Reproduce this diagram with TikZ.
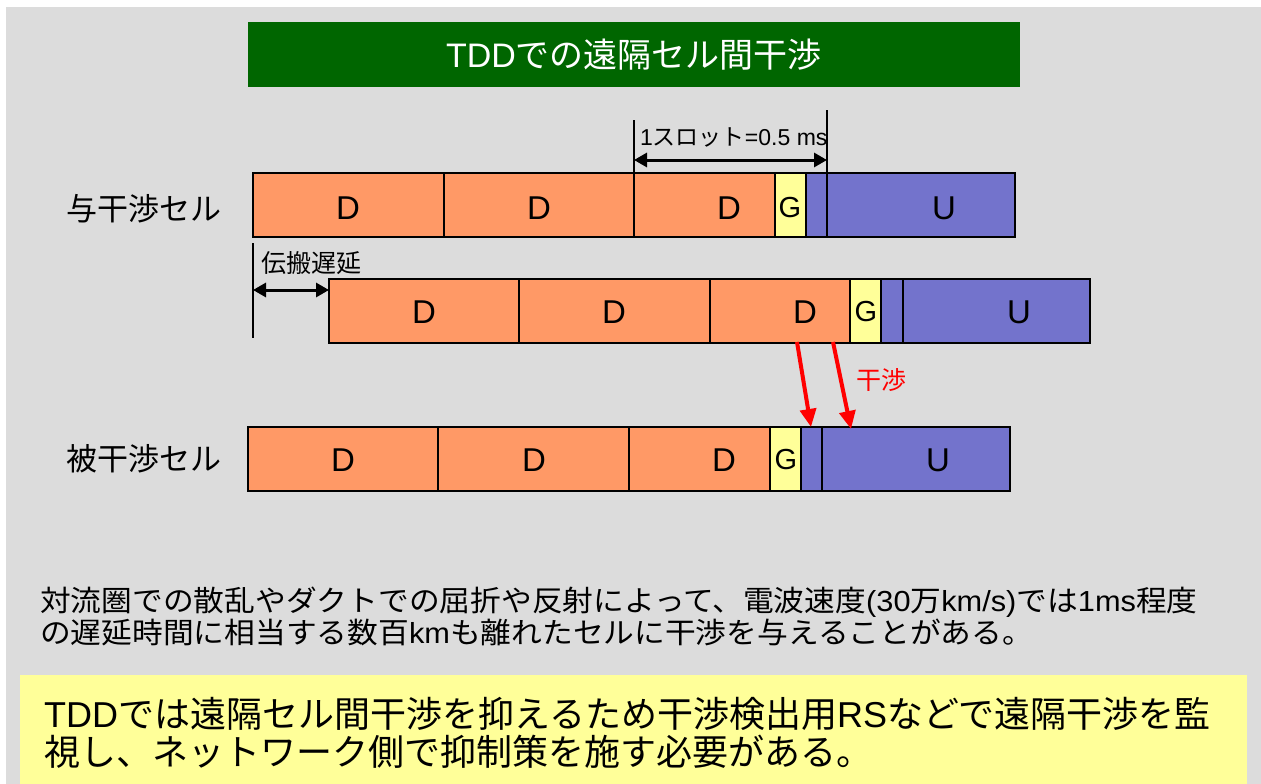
\documentclass[tikz,border=0pt]{standalone}
\usepackage{fontspec}
\setmainfont{Liberation Sans}
\newfontfamily\jp{Noto Sans CJK JP}
\usetikzlibrary{arrows.meta}
\definecolor{bgray}{HTML}{DCDCDC}
\definecolor{dcol}{HTML}{FF9966}
\definecolor{gcol}{HTML}{FFFF99}
\definecolor{ucol}{HTML}{7373CC}
\definecolor{titlegreen}{HTML}{006600}
\definecolor{notebox}{HTML}{FFFF99}
\begin{document}
\begin{tikzpicture}[x=1pt,y=-1pt,
  seg/.style={draw=black,line width=1.5pt,inner sep=0pt,outer sep=0pt,anchor=north west,minimum height=64pt},
  lbl/.style={inner sep=0pt,font=\fontsize{33}{36}\selectfont},
  glbl/.style={inner sep=0pt,font=\fontsize{29}{32}\selectfont},
  dimarrow/.style={line width=3pt,{Triangle[length=13pt,width=14pt]}-{Triangle[length=13pt,width=14pt]}},
  redarrow/.style={draw=red,line width=4pt,-{Triangle[length=18pt,width=16pt]}},
  marker/.style={line width=1.5pt}]
\useasboundingbox (0,0) rectangle (1261,784);
\fill[white] (0,0) rectangle (1261,784);
\fill[bgray] (6,7) rectangle (1261,784);
% title
\node[fill=titlegreen,minimum width=772pt,minimum height=65pt,anchor=north west,inner sep=0pt] (title) at (248,22) {};
\node[text=white,inner sep=0pt,font=\fontsize{34}{38}\selectfont,anchor=base] (titletext) at (634,68) {TDD{\jp での遠隔セル間干渉}};
% row labels
\node[anchor=base west,inner sep=0pt,font=\jp\fontsize{31}{34}\selectfont] (lab1) at (66,220) {与干渉セル};
\node[anchor=base west,inner sep=0pt,font=\jp\fontsize{31}{34}\selectfont] (lab3) at (66,470) {被干渉セル};
% row 1
\node[seg,fill=dcol,minimum width=191pt] (a1) at (253,173) {};
\node[seg,fill=dcol,minimum width=190pt] (a2) at (444,173) {};
\node[seg,fill=dcol,minimum width=141pt] (a3) at (634,173) {};
\node[seg,fill=gcol,minimum width=31pt] (ag) at (775,173) {};
\node[seg,fill=ucol,minimum width=21pt] (ab) at (806,173) {};
\node[seg,fill=ucol,minimum width=188pt] (au) at (827,173) {};
\node[lbl] at (348,208) {D};
\node[lbl] at (539,208) {D};
\node[lbl] at (729,208) {D};
\node[glbl] at (790,208) {G};
\node[lbl] at (944,208) {U};
% row 2
\node[seg,fill=dcol,minimum width=190pt] (b1) at (329,279) {};
\node[seg,fill=dcol,minimum width=191pt] (b2) at (519,279) {};
\node[seg,fill=dcol,minimum width=140pt] (b3) at (710,279) {};
\node[seg,fill=gcol,minimum width=31pt] (bg) at (850,279) {};
\node[seg,fill=ucol,minimum width=22pt] (bb) at (881,279) {};
\node[seg,fill=ucol,minimum width=187pt] (bu) at (903,279) {};
\node[lbl] at (424,312) {D};
\node[lbl] at (614,312) {D};
\node[lbl] at (805,312) {D};
\node[glbl] at (866,312) {G};
\node[lbl] at (1019,312) {U};
% row 3
\node[seg,fill=dcol,minimum width=190pt] (c1) at (248,427) {};
\node[seg,fill=dcol,minimum width=191pt] (c2) at (438,427) {};
\node[seg,fill=dcol,minimum width=141pt] (c3) at (629,427) {};
\node[seg,fill=gcol,minimum width=31pt] (cg) at (770,427) {};
\node[seg,fill=ucol,minimum width=21pt] (cb) at (801,427) {};
\node[seg,fill=ucol,minimum width=188pt] (cu) at (822,427) {};
\node[lbl] at (343,460) {D};
\node[lbl] at (534,460) {D};
\node[lbl] at (724,460) {D};
\node[glbl] at (786,460) {G};
\node[lbl] at (938,460) {U};
% slot dimension
\coordinate (s1top) at (634,120);
\coordinate (s2top) at (827,110);
\draw[marker] (s1top) -- (a3.south west);
\draw[marker] (s2top) -- (au.south west);
\coordinate (s1a) at (634,160);
\coordinate (s2a) at (827,160);
\draw[dimarrow] (s1a) -- (s2a);
\node[anchor=base west,inner sep=0pt,font=\fontsize{23}{26}\selectfont] (slotlbl) at (640,145) {1{\jp スロット}=0.5 ms};
% propagation delay
\coordinate (pdtop) at (253,243);
\coordinate (pdbot) at (253,338);
\draw[marker] (pdtop) -- (pdbot);
\coordinate (pda) at (253,290);
\coordinate (pdb) at (b1.west |- pda);
\draw[dimarrow] (pda) -- (pdb);
\node[anchor=base west,inner sep=0pt,font=\jp\fontsize{25}{28}\selectfont] (pdlbl) at (261,272) {伝搬遅延};
% interference arrows
\coordinate (r1s) at (797,342);
\coordinate (r1e) at (811,427);
\coordinate (r2s) at (833,342);
\coordinate (r2e) at (851,429);
\draw[redarrow] (r1s) -- (r1e);
\draw[redarrow] (r2s) -- (r2e);
\node[text=red,inner sep=0pt,font=\jp\fontsize{25}{28}\selectfont] (intlbl) at (881,380) {干渉};
% explanation
\node[anchor=base west,inner sep=0pt,font=\jp\fontsize{29}{32}\selectfont] (t1) at (40,611) {\scalebox{1.06}[1]{対流圏での散乱やダクトでの屈折や反射によって、電波速度{\rmfamily(30}万{\rmfamily km/s)}では{\rmfamily 1ms}程度}};
\node[anchor=base west,inner sep=0pt,font=\jp\fontsize{29}{32}\selectfont] (t2) at (40,643) {\scalebox{1.06}[1]{の遅延時間に相当する数百{\rmfamily km}も離れたセルに干渉を与えることがある。}};
% conclusion box
\node[fill=notebox,anchor=north west,minimum width=1227pt,minimum height=109pt,inner sep=0pt] (note) at (20,675) {};
\node[anchor=base west,inner sep=0pt,font=\jp\fontsize{36}{40}\selectfont] (n1) at (44,727) {{\rmfamily TDD}では遠隔セル間干渉を抑えるため干渉検出用{\rmfamily RS}などで遠隔干渉を監};
\node[anchor=base west,inner sep=0pt,font=\jp\fontsize{36}{40}\selectfont] (n2) at (44,765) {視し、ネットワーク側で抑制策を施す必要がある。};
\end{tikzpicture}
\end{document}
